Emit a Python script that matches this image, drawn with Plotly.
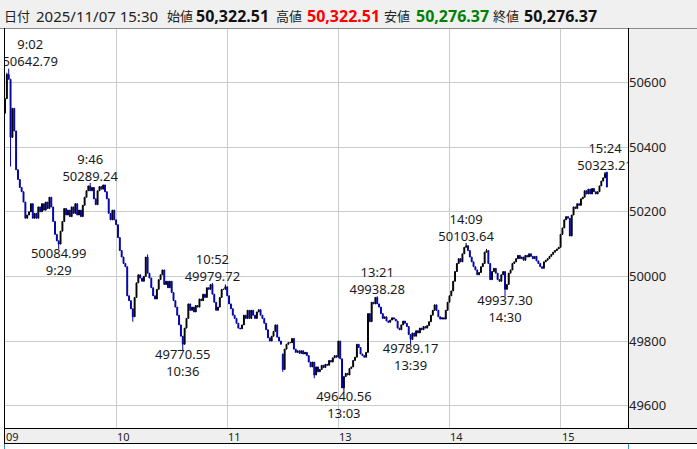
import plotly.graph_objects as go

# ---------------- data ----------------
session_date = "2025/11/07 15:30"
hour_labels = ["09", "10", "11", "13", "14", "15"]
hour_ticks = [0, 60, 120, 180, 240, 300]          # session-minute index of each hour
y_ticks = [49600, 49800, 50000, 50200, 50400, 50600]

# one close per 1-minute bar (session minutes, lunch break removed)
closes = [
    50550, 50625, 50610, 50430, 50520, 50450, 50330, 50300, 50275, 50262,
    50230, 50180, 50190, 50200, 50225, 50180, 50195, 50180, 50215, 50200,
    50225, 50205, 50230, 50210, 50245, 50215, 50170, 50130, 50110, 50100,
    50140, 50170, 50210, 50190, 50205, 50185, 50215, 50195, 50225, 50190,
    50205, 50185, 50220, 50245, 50265, 50280, 50265, 50275, 50240, 50222,
    50265, 50278, 50270, 50283, 50262, 50240, 50195, 50175, 50205, 50175,
    50160, 50120, 50080, 50060, 50040, 50030, 49940, 49925, 49900, 49875,
    49935, 49980, 50005, 49995, 49985, 50000, 50060, 50010, 49995, 49965,
    49940, 49930, 49960, 49990, 50005, 50020, 49975, 49985, 49965, 49985,
    49950, 49925, 49905, 49880, 49850, 49815, 49790, 49840, 49870, 49915,
    49895, 49905, 49890, 49910, 49905, 49930, 49925, 49945, 49935, 49965,
    49960, 49975, 49945, 49920, 49895, 49905, 49935, 49960, 49960, 49968,
    49940, 49915, 49900, 49880, 49870, 49855, 49840, 49838, 49850, 49880,
    49870, 49895, 49870, 49895, 49880, 49870, 49890, 49897, 49880, 49870,
    49855, 49835, 49810, 49800, 49815, 49830, 49850, 49812, 49800, 49790,
    49712, 49775, 49790, 49795, 49795, 49808, 49775, 49765, 49770, 49762,
    49770, 49760, 49765, 49755, 49735, 49720, 49735, 49695, 49720, 49705,
    49712, 49725, 49718, 49728, 49725, 49740, 49735, 49748, 49755, 49750,
    49800, 49745, 49655, 49690, 49700, 49695, 49715, 49720, 49740, 49750,
    49790, 49780, 49760, 49755, 49750, 49765, 49885, 49860, 49920, 49915,
    49935, 49915, 49905, 49885, 49870, 49875, 49862, 49858, 49865, 49872,
    49868, 49862, 49840, 49835, 49850, 49862, 49855, 49845, 49820, 49805,
    49825, 49815, 49832, 49825, 49840, 49835, 49845, 49840, 49848, 49860,
    49880, 49895, 49912, 49895, 49875, 49868, 49872, 49868, 49895, 49920,
    49940, 49955, 49985, 50015, 50040, 50055, 50045, 50070, 50090, 50095,
    50080, 50060, 50045, 50030, 50020, 50005, 50012, 50030, 50040, 50075,
    50080, 50040, 49990, 50015, 50025, 50010, 49990, 49985, 50005, 50015,
    49960, 49975, 50010, 50020, 50040, 50045, 50055, 50065, 50055, 50060,
    50050, 50065, 50060, 50070, 50062, 50055, 50062, 50048, 50040, 50030,
    50025, 50045, 50050, 50055, 50062, 50068, 50075, 50080, 50085, 50090,
    50130, 50150, 50175, 50185, 50180, 50125, 50190, 50215, 50210, 50225,
    50220, 50240, 50245, 50265, 50255, 50270, 50255, 50272, 50262, 50255,
    50262, 50280, 50295, 50305, 50318, 50276.37,
]
first_open = 50505
open_overrides = {150: 49760, 325: 50322.51}
high_overrides = {1: 50630, 2: 50642.79, 46: 50289.24, 77: 50068, 112: 49979.72,
                  119: 49975, 201: 49938.28, 249: 50103.64, 260: 50085,
                  324: 50323.21, 325: 50322.51}
low_overrides = {3: 50340, 29: 50084.99, 69: 49860, 96: 49770.55, 150: 49705,
                 167: 49685, 183: 49640.56, 219: 49789.17, 270: 49937.30,
                 325: 50276.37}

# extreme-point labels: (clock text, bar index, value, side)
labels = [
    ("9:02", 2, 50642.79, "above"),
    ("9:29", 29, 50084.99, "below"),
    ("9:46", 46, 50289.24, "above"),
    ("10:36", 96, 49770.55, "below"),
    ("10:52", 112, 49979.72, "above"),
    ("13:03", 183, 49640.56, "below"),
    ("13:21", 201, 49938.28, "above"),
    ("13:39", 219, 49789.17, "below"),
    ("14:09", 249, 50103.64, "above"),
    ("14:30", 270, 49937.30, "below"),
    ("15:24", 324, 50323.21, "above"),
]

# ---------------- derived OHLC ----------------
n = len(closes)
xs = list(range(n))
opens = [first_open] + closes[:-1]
for k, v in open_overrides.items():
    opens[k] = v
highs = [max(o, c) for o, c in zip(opens, closes)]
lows = [min(o, c) for o, c in zip(opens, closes)]
for k, v in high_overrides.items():
    highs[k] = v
for k, v in low_overrides.items():
    lows[k] = v

# ---------------- geometry ----------------
W, H = 697, 449
L, R, T, B = 4, 628, 28, 428          # plot-area pixel box
X_RANGE = [-0.54, 336.4]
Y_RANGE = [49531, 50768.5]
units_per_px = (Y_RANGE[1] - Y_RANGE[0]) / (B - T)
min_per_px = (X_RANGE[1] - X_RANGE[0]) / (R - L)


def px(xp):
    return (xp - L) / (R - L)


def py(yp):
    return (B - yp) / (B - T)


FONT = "Noto Sans, Noto Sans CJK JP, sans-serif"
UP = "#000000"
DOWN = "#0000a8"

fig = go.Figure()
fig.add_trace(go.Candlestick(
    x=xs, open=opens, high=highs, low=lows, close=closes,
    increasing=dict(line=dict(color=UP, width=1), fillcolor=UP),
    decreasing=dict(line=dict(color=DOWN, width=1), fillcolor=DOWN),
    whiskerwidth=0, hoverinfo="skip", showlegend=False,
))

# extreme labels: one two-line text block per extreme, clipped to the plot
tx, ty, tt = [], [], []
for clock, idx, val, side in labels:
    txt_val = f"{val:.2f}"
    half_w = len(txt_val) * 3.4
    xpix = (idx - X_RANGE[0]) / min_per_px
    shift_px = max(0, half_w - 1 - xpix)
    xc = idx + shift_px * min_per_px
    if side == "above":
        tx.append(xc)
        ty.append(val + 14 * units_per_px)
        tt.append(f"{clock}<br>{txt_val}")
    else:
        tx.append(xc)
        ty.append(val - 14 * units_per_px)
        tt.append(f"{txt_val}<br>{clock}")
fig.add_trace(go.Scatter(
    x=tx, y=ty, text=tt, mode="text", textposition="middle center",
    textfont=dict(family=FONT, size=13, color="#1a1a1a"),
    cliponaxis=True, hoverinfo="skip", showlegend=False,
))

shapes = []
# header bar
shapes.append(dict(type="rect", xref="paper", yref="paper", x0=px(0), x1=px(W),
                   y0=py(T), y1=py(0), fillcolor="#f0f0f0", line=dict(width=0), layer="below"))
# right value panel
shapes.append(dict(type="rect", xref="paper", yref="paper", x0=px(R), x1=px(W),
                   y0=py(443), y1=py(T), fillcolor="#efefef", line=dict(width=0), layer="below"))
# bottom time band
shapes.append(dict(type="rect", xref="paper", yref="paper", x0=px(L), x1=px(W),
                   y0=py(443), y1=py(B), fillcolor="#efefef", line=dict(width=0), layer="below"))


def hline(yp, x0p, x1p, color="#000000"):
    shapes.append(dict(type="line", xref="paper", yref="paper", x0=px(x0p), x1=px(x1p),
                       y0=py(yp), y1=py(yp), line=dict(color=color, width=1), layer="above"))


def vline(xp, y0p, y1p, color="#000000"):
    shapes.append(dict(type="line", xref="paper", yref="paper", x0=px(xp), x1=px(xp),
                       y0=py(y0p), y1=py(y1p), line=dict(color=color, width=1), layer="above"))


hline(T + 0.5, 0, W, "#8a8a8a")
hline(B + 0.5, L, W)
hline(443.5, L, W)
vline(L + 0.5, T, 443.5)
vline(R + 0.5, T, B + 0.5)
vline(L + 0.5, 444, H, "#3a8fd0")
vline(R + 0.5, 444, H, "#3a8fd0")

annotations = []
# header text
hdr = [
    ("日付", 3, 13, False, "#222222"),
    (session_date, 35, 15, False, "#222222"),
    ("始値", 166, 13, False, "#222222"),
    (f"{opens[-1]:,.2f}", 195, 16, True, "#111111"),
    ("高値", 275, 13, False, "#222222"),
    (f"{highs[-1]:,.2f}", 306, 16, True, "#ff0000"),
    ("安値", 383, 13, False, "#222222"),
    (f"{lows[-1]:,.2f}", 415, 16, True, "#008000"),
    ("終値", 492, 13, False, "#222222"),
    (f"{closes[-1]:,.2f}", 523, 16, True, "#111111"),
]
for text, xp, size, bold, color in hdr:
    annotations.append(dict(
        text=f"<b>{text}</b>" if bold else text, xref="paper", yref="paper",
        x=px(xp), y=py(16), xanchor="left", yanchor="middle", showarrow=False,
        font=dict(family=FONT, size=size, color=color), borderpad=0))
# hour labels in the bottom band
for lab, t in zip(hour_labels, hour_ticks):
    annotations.append(dict(
        text=lab, xref="x", yref="paper", x=t, y=py(436), xanchor="left",
        yanchor="middle", showarrow=False, borderpad=0,
        font=dict(family=FONT, size=11, color="#222222")))

fig.update_layout(
    width=W, height=H,
    margin=dict(l=L, r=W - R, t=T, b=H - B, pad=0),
    paper_bgcolor="#ffffff", plot_bgcolor="#ffffff",
    shapes=shapes, annotations=annotations,
    showlegend=False,
    xaxis=dict(range=X_RANGE, tickvals=hour_ticks, showticklabels=False,
               showgrid=True, gridcolor="#cccccc", gridwidth=1, zeroline=False,
               showline=False, ticks="", rangeslider=dict(visible=False),
               fixedrange=True),
    yaxis=dict(range=Y_RANGE, tickvals=y_ticks, ticktext=[str(v) for v in y_ticks],
               side="right", showgrid=True, gridcolor="#cccccc", gridwidth=1,
               zeroline=False, showline=False, ticks="",
               tickfont=dict(family=FONT, size=13, color="#222222"), fixedrange=True),
)

fig.write_html("out.html", config={"displayModeBar": False},
               post_script="document.body.style.margin='0';")
